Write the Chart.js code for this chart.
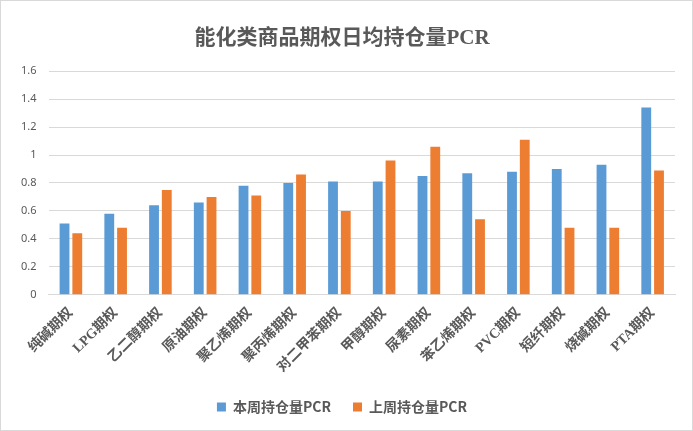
<!DOCTYPE html>
<html>
<head>
<meta charset="utf-8">
<script src="https://cdn.jsdelivr.net/npm/chart.js@4"></script>
<style>
  body { margin: 0; background: #fff; }
  #box { width: 693px; height: 431px; box-sizing: border-box; border: 1px solid #d9d9d9; }
</style>
</head>
<body>
<div id="box"><canvas id="pcrChart"></canvas></div>
<script>
// categorie e valori
const labels = ['纯碱期权', 'LPG期权', '乙二醇期权', '原油期权', '聚乙烯期权', '聚丙烯期权', '对二甲苯期权',
  '甲醇期权', '尿素期权', '苯乙烯期权', 'PVC期权', '短纤期权', '烧碱期权', 'PTA期权'];
const thisWeek = [0.51, 0.58, 0.64, 0.66, 0.78, 0.80, 0.81, 0.81, 0.85, 0.87, 0.88, 0.90, 0.93, 1.34];
const lastWeek = [0.44, 0.48, 0.75, 0.70, 0.71, 0.86, 0.60, 0.96, 1.06, 0.54, 1.11, 0.48, 0.48, 0.89];
const seriesNames = ['本周持仓量PCR', '上周持仓量PCR'];
const yTicks = [0, 0.2, 0.4, 0.6, 0.8, 1, 1.2, 1.4, 1.6];

const colors = ['#5B9BD5', '#ED7D31'];
const grey = '#595959';

let ctx = document.getElementById('pcrChart').getContext('2d');

let myBarChart = new Chart(ctx, {
  type: 'bar',
  data: {
    labels: labels,
    datasets: [
      { label: seriesNames[0], data: thisWeek, backgroundColor: colors[0], categoryPercentage: 0.57, barPercentage: 0.77 },
      { label: seriesNames[1], data: lastWeek, backgroundColor: colors[1], categoryPercentage: 0.57, barPercentage: 0.77 }
    ]
  },
  options: {
    responsive: true,
    maintainAspectRatio: false,
    animation: false,
    layout: { padding: { left: 8, right: 17, top: 0, bottom: 6 } },
    plugins: {
      title: {
        display: true,
        text: '能化类商品期权日均持仓量PCR',
        color: grey,
        font: { family: "'Liberation Serif', 'Noto Sans CJK SC'", size: 21, weight: 'bold' },
        padding: { top: 25, bottom: 20 }
      },
      legend: {
        position: 'bottom',
        labels: {
          color: grey,
          boxWidth: 9,
          boxHeight: 9,
          padding: 22,
          font: { family: "'Noto Sans CJK SC'", size: 14, weight: 'bold' }
        }
      },
      tooltip: { enabled: false }
    },
    scales: {
      x: {
        grid: { display: false },
        border: { color: '#d9d9d9' },
        ticks: {
          autoSkip: false,
          minRotation: 45,
          maxRotation: 45,
          padding: 2,
          color: grey,
          font: { family: "'Liberation Serif', 'Noto Sans CJK SC'", size: 14, weight: 'bold' }
        }
      },
      y: {
        min: 0,
        max: 1.6,
        afterBuildTicks: (axis) => { axis.ticks = yTicks.map(v => ({ value: v })); },
        grid: { color: '#d9d9d9', drawTicks: false },
        border: { display: false },
        ticks: {
          padding: 12,
          color: grey,
          font: { family: "'Noto Sans', 'DejaVu Sans'", size: 11 },
          callback: (v) => String(v)
        }
      }
    }
  }
});
</script>
</body>
</html>
